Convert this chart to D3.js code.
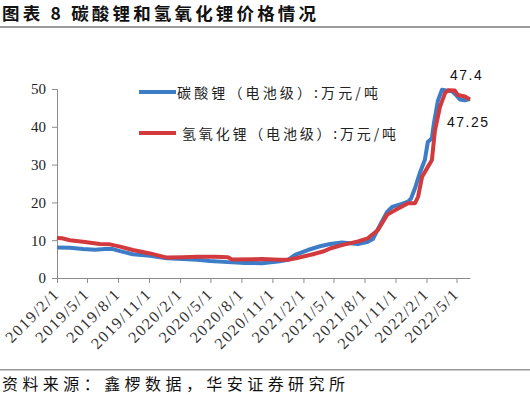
<!DOCTYPE html>
<html>
<head>
<meta charset="utf-8">
<script src="https://cdn.jsdelivr.net/npm/d3@7"></script>
<style>
  body { margin: 0; background: #fff; }
  svg { display: block; }
</style>
</head>
<body>
<div id="chart"></div>
<script>
// tick labels on the date axis
var tickLabels = ["2019/2/1", "2019/5/1", "2019/8/1", "2019/11/1", "2020/2/1", "2020/5/1",
  "2020/8/1", "2020/11/1", "2021/2/1", "2021/5/1", "2021/8/1", "2021/11/1", "2022/2/1", "2022/5/1"];
var yTicks = [0, 10, 20, 30, 40, 50];

// 碳酸锂 (电池级), 万元/吨
var carbonateDates = ["2019-02-01", "2019-03-11", "2019-04-19", "2019-05-25", "2019-06-23", "2019-07-14",
  "2019-08-07", "2019-09-14", "2019-11-04", "2019-12-24", "2020-02-10", "2020-03-22", "2020-04-30",
  "2020-06-22", "2020-08-12", "2020-10-01", "2020-11-23", "2020-12-17", "2021-01-07", "2021-02-14",
  "2021-03-22", "2021-04-21", "2021-05-26", "2021-07-13", "2021-08-11", "2021-08-26", "2021-09-10",
  "2021-09-25", "2021-10-07", "2021-10-22", "2021-11-20", "2021-12-08", "2021-12-17", "2021-12-29",
  "2022-01-13", "2022-01-27", "2022-02-05", "2022-02-17", "2022-02-23", "2022-03-07", "2022-03-19",
  "2022-03-31", "2022-04-18", "2022-04-29", "2022-05-11", "2022-05-26", "2022-06-10"];
var carbonateValues = [8.1, 8.0, 7.7, 7.5, 7.7, 7.7,
  7.1, 6.3, 5.9, 5.2, 5.0, 4.8, 4.5,
  4.2, 4.0, 3.9, 4.4, 4.8, 6.1, 7.4,
  8.4, 9.0, 9.4, 9.0, 9.6, 10.3, 13.0,
  15.5, 17.5, 18.8, 19.6, 20.2, 21.0, 23.8,
  28.0, 31.2, 36.0, 37.0, 41.0, 47.0, 49.8,
  49.6, 49.4, 48.5, 47.2, 47.0, 47.4];

// 氢氧化锂 (电池级), 万元/吨
var hydroxideDates = ["2019-02-01", "2019-02-16", "2019-03-11", "2019-04-19", "2019-06-08", "2019-07-08",
  "2019-08-07", "2019-09-14", "2019-11-04", "2019-12-24", "2020-02-10", "2020-03-22", "2020-05-15",
  "2020-06-22", "2020-07-04", "2020-10-01", "2020-11-23", "2020-12-17", "2021-01-13", "2021-03-01",
  "2021-03-31", "2021-04-21", "2021-05-26", "2021-07-13", "2021-08-11", "2021-09-10", "2021-10-07",
  "2021-10-22", "2021-11-20", "2021-12-08", "2021-12-29", "2022-01-07", "2022-01-19", "2022-02-05",
  "2022-02-17", "2022-02-26", "2022-03-13", "2022-03-28", "2022-04-06", "2022-04-26", "2022-05-05",
  "2022-05-26", "2022-06-10"];
var hydroxideValues = [10.6, 10.5, 10.0, 9.6, 9.0, 8.9,
  8.3, 7.4, 6.5, 5.4, 5.5, 5.6, 5.6,
  5.5, 4.9, 5.0, 4.8, 4.8, 5.3, 6.3,
  7.0, 7.8, 8.7, 9.7, 10.5, 12.7, 16.7,
  17.5, 18.9, 19.8, 19.8, 21.5, 26.8, 29.4,
  31.2, 39.0, 45.3, 48.9, 49.7, 49.6, 48.4,
  48.0, 47.25];

var seriesNames = ["碳酸锂（电池级）:万元/吨", "氢氧化锂（电池级）:万元/吨"];
var lastLabels = ["47.4", "47.25"];

var W = 530, H = 396;
var parseDate = d3.timeParse("%Y-%m-%d");
var parseTick = d3.timeParse("%Y/%m/%d");

var svg = d3.select("#chart").append("svg")
    .attr("width", W)
    .attr("height", H);

// title + rules
svg.append("text")
    .attr("x", 2)
    .attr("y", 20)
    .attr("textLength", 314)
    .attr("lengthAdjust", "spacing")
    .style("font-family", "'Noto Sans CJK SC', sans-serif")
    .style("font-weight", "bold")
    .style("font-size", "17.5px")
    .style("fill", "#111")
    .text("图表 8  碳酸锂和氢氧化锂价格情况");

svg.append("rect")
    .attr("x", 0).attr("y", 26)
    .attr("width", W).attr("height", 2)
    .attr("fill", "#9a9a9a");

svg.append("rect")
    .attr("x", 0).attr("y", 369)
    .attr("width", W).attr("height", 1.5)
    .attr("fill", "#9a9a9a");

svg.append("text")
    .attr("x", 2)
    .attr("y", 390)
    .attr("textLength", 343)
    .attr("lengthAdjust", "spacing")
    .style("font-family", "'Noto Sans CJK SC', sans-serif")
    .style("font-size", "16px")
    .style("fill", "#111")
    .text("资料来源：鑫椤数据，华安证券研究所");

// scales
var x = d3.scaleTime()
    .domain([parseDate("2019-02-01"), parseDate("2022-06-10")])
    .range([57, 470]);
var y = d3.scaleLinear()
    .domain([0, 50])
    .range([278, 89]);

// axes
var yAxis = svg.append("g")
    .attr("transform", "translate(57,0)")
    .call(d3.axisLeft(y).tickValues(yTicks).tickSize(5).tickPadding(6));
yAxis.select(".domain").attr("stroke", "#8c8c8c");
yAxis.selectAll(".tick line").attr("stroke", "#8c8c8c");
yAxis.selectAll("text")
    .style("font-family", "'Liberation Serif', serif")
    .style("font-size", "15px")
    .style("fill", "#222");

var xAxis = svg.append("g")
    .attr("transform", "translate(0,278)")
    .call(d3.axisBottom(x)
        .tickValues(tickLabels.map(parseTick))
        .tickSize(5)
        .tickSizeOuter(0)
        .tickFormat(function(d, i) { return tickLabels[i]; }));
xAxis.select(".domain").attr("stroke", "#8c8c8c");
xAxis.selectAll(".tick line").attr("stroke", "#8c8c8c");
xAxis.selectAll("text")
    .attr("text-anchor", "end")
    .attr("y", 0)
    .attr("dy", "0")
    .attr("transform", "translate(3,17) rotate(-45)")
    .style("font-family", "'Liberation Serif', serif")
    .style("font-size", "16px")
    .style("letter-spacing", "1.5px")
    .style("fill", "#333");

// lines
var carbonate = carbonateDates.map(function(d, i) { return {date: parseDate(d), value: carbonateValues[i]}; });
var hydroxide = hydroxideDates.map(function(d, i) { return {date: parseDate(d), value: hydroxideValues[i]}; });

var line = d3.line()
    .x(function(d) { return x(d.date); })
    .y(function(d) { return y(d.value); });

var colors = ["#3d7cc6", "#d23a3d"];

svg.append("path")
    .datum(carbonate)
    .attr("fill", "none")
    .attr("stroke", colors[0])
    .attr("stroke-width", 4)
    .attr("stroke-linejoin", "round")
    .attr("d", line);

svg.append("path")
    .datum(hydroxide)
    .attr("fill", "none")
    .attr("stroke", colors[1])
    .attr("stroke-width", 4)
    .attr("stroke-linejoin", "round")
    .attr("d", line);

// legend
var legend = svg.append("g").attr("class", "legend");
var legendRows = [{y: 92, tx: 177, len: 201}, {y: 133, tx: 182, len: 214}];
legendRows.forEach(function(r, i) {
    legend.append("line")
        .attr("x1", 139).attr("x2", 176)
        .attr("y1", r.y).attr("y2", r.y)
        .attr("stroke", colors[i])
        .attr("stroke-width", 4);
    legend.append("text")
        .attr("x", r.tx)
        .attr("y", r.y + 6)
        .attr("textLength", r.len)
        .attr("lengthAdjust", "spacing")
        .style("font-family", "'Noto Sans CJK SC', sans-serif")
        .style("font-size", "14px")
        .style("fill", "#222")
        .text(seriesNames[i]);
});

// value labels at the end
svg.append("text")
    .attr("x", 450).attr("y", 80)
    .style("font-family", "'Liberation Sans', sans-serif")
    .style("font-size", "14px")
    .style("letter-spacing", "1.5px")
    .style("fill", "#111")
    .text(lastLabels[0]);
svg.append("text")
    .attr("x", 447).attr("y", 127)
    .style("font-family", "'Liberation Sans', sans-serif")
    .style("font-size", "14px")
    .style("letter-spacing", "1.5px")
    .style("fill", "#111")
    .text(lastLabels[1]);
</script>
</body>
</html>
